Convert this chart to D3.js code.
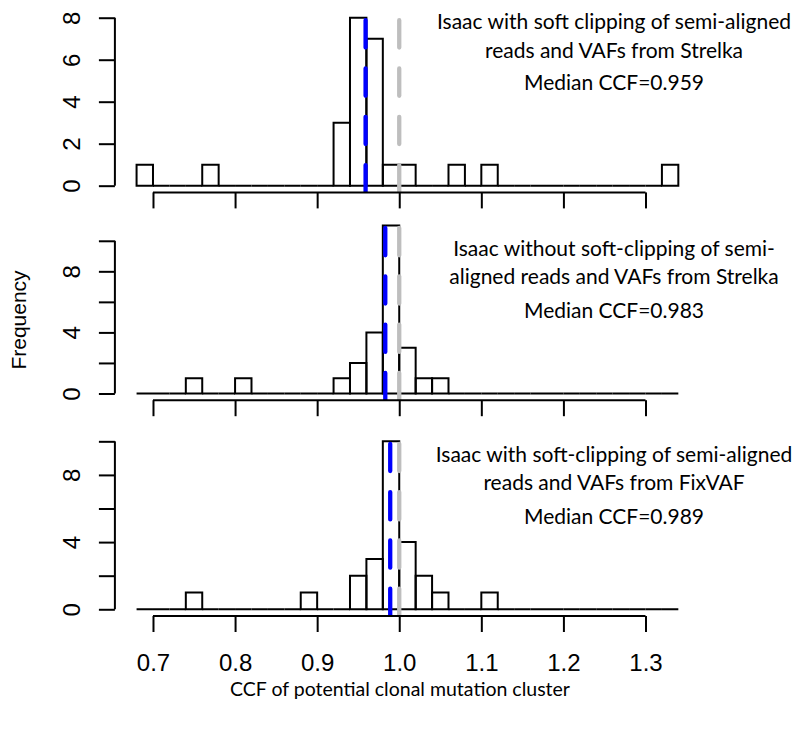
<!DOCTYPE html>
<html>
<head>
<meta charset="utf-8">
<script src="https://cdn.jsdelivr.net/npm/d3@7"></script>
<style>
  body { margin: 0; background: #fff; }
  .tick line, .domain { stroke: #000; stroke-width: 2; }
</style>
</head>
<body>
<div id="chart"></div>
<script>
// histogram breaks (shared by the three panels)
var breaks = [0.68, 0.70, 0.72, 0.74, 0.76, 0.78, 0.80, 0.82, 0.84, 0.86, 0.88,
              0.90, 0.92, 0.94, 0.96, 0.98, 1.00, 1.02, 1.04, 1.06, 1.08, 1.10,
              1.12, 1.14, 1.16, 1.18, 1.20, 1.22, 1.24, 1.26, 1.28, 1.30, 1.32, 1.34];

// counts per bin
var counts_soft_strelka   = [1,0,0,0,1,0,0,0,0,0,0,0, 3,8,7,1,1, 0,0,1,0,1,0, 0,0,0,0,0,0,0,0,0,1];
var counts_nosoft_strelka = [0,0,0,1,0,0,1,0,0,0,0,0, 1,2,4,11,3,1,1, 0,0,0,0,0,0,0,0,0,0,0,0,0,0];
var counts_soft_fixvaf    = [0,0,0,1,0,0,0,0,0,0,1,0, 0,2,3,10,4,2,1,0,0,1,0, 0,0,0,0,0,0,0,0,0,0];

var medians = [0.959, 0.983, 0.989];
var ref_ccf = 1.0;

var x_ticks = [0.7, 0.8, 0.9, 1.0, 1.1, 1.2, 1.3];
var y_max = [8, 11, 10];
var y_ticks = [[0, 2, 4, 6, 8], [0, 2, 4, 6, 8, 10], [0, 2, 4, 6, 8, 10]];
var y_labels = [[0, 2, 4, 6, 8], [0, 4, 8], [0, 4, 8]];

var panel_text = [
  ["Isaac with soft clipping of semi-aligned", "reads and VAFs from Strelka", "Median CCF=0.959"],
  ["Isaac without soft-clipping of semi-", "aligned reads and VAFs from Strelka", "Median CCF=0.983"],
  ["Isaac with soft-clipping of semi-aligned", "reads and VAFs from FixVAF", "Median CCF=0.989"]
];

var all_counts = [counts_soft_strelka, counts_nosoft_strelka, counts_soft_fixvaf];

// layout
var width = 804, height = 729;
var plot_left = 114.9, plot_right = 700;
var panel_top = [11, 218.8, 434.6];
var panel_h = 181.4;
var text_base = [[29, 58, 90], [256, 284, 318], [462, 490, 524]];
var text_x = 614;

var svg = d3.select("#chart").append("svg")
    .attr("width", width)
    .attr("height", height);

// R style axis range: data range extended 4%
var xlo = breaks[0], xhi = breaks[breaks.length - 1];
var xpad = (xhi - xlo) * 0.04;
var x = d3.scaleLinear()
    .domain([xlo - xpad, xhi + xpad])
    .range([plot_left, plot_right]);

all_counts.forEach(function(counts, p) {
    var top = panel_top[p], bottom = top + panel_h;
    var ypad = y_max[p] * 0.04;
    var y = d3.scaleLinear()
        .domain([-ypad, y_max[p] + ypad])
        .range([bottom, top]);

    var g = svg.append("g");

    var clipId = "clip" + p;
    svg.append("clipPath").attr("id", clipId)
      .append("rect")
        .attr("x", plot_left).attr("y", top)
        .attr("width", plot_right - plot_left).attr("height", panel_h);

    // bars, drawn as closed paths so empty bins still show on the baseline
    var bins = counts.map(function(c, i) { return {x0: breaks[i], x1: breaks[i + 1], n: c}; });
    g.selectAll("path.bar")
      .data(bins)
      .join("path")
        .attr("class", "bar")
        .attr("d", d => "M" + x(d.x0) + "," + y(0) + "V" + y(d.n) + "H" + x(d.x1) + "V" + y(0) + "Z")
        .attr("fill", "none")
        .attr("stroke", "#000")
        .attr("stroke-width", 2);

    // median and reference lines (dash pattern starts at the bottom)
    var lines = g.append("g").attr("clip-path", "url(#" + clipId + ")");
    [[medians[p], "#0000ff"], [ref_ccf, "#bebebe"]].forEach(function(v) {
        lines.append("line")
            .attr("x1", x(v[0])).attr("x2", x(v[0]))
            .attr("y1", bottom).attr("y2", top)
            .attr("stroke", v[1])
            .attr("stroke-width", 4.3)
            .attr("stroke-linecap", "round")
            .attr("stroke-dasharray", "27.3,21");
    });

    // x axis
    var xa = svg.append("g")
        .attr("transform", "translate(0," + bottom + ")")
        .call(d3.axisBottom(x).tickValues(x_ticks).tickSize(16).tickSizeOuter(0).tickPadding(22)
            .tickFormat(p == 2 ? d3.format(".1f") : ""));
    xa.select(".domain").attr("d", "M" + x(x_ticks[0]) + ",0H" + x(x_ticks[x_ticks.length - 1]));
    xa.selectAll("text")
        .style("font-family", "'Liberation Sans', Arial, sans-serif")
        .style("font-size", "24px")
        .attr("fill", "#000");

    // y axis
    var ya = svg.append("g")
        .attr("transform", "translate(" + plot_left + ",0)")
        .call(d3.axisLeft(y).tickValues(y_ticks[p]).tickSize(16).tickSizeOuter(0)
            .tickFormat(d => y_labels[p].indexOf(d) >= 0 ? d : ""));
    var yt = y_ticks[p];
    ya.select(".domain").attr("d", "M0," + y(yt[0]) + "V" + y(yt[yt.length - 1]));
    ya.selectAll("text")
        .attr("x", 0).attr("y", -35).attr("dy", null)
        .attr("transform", "rotate(-90)")
        .attr("text-anchor", "middle")
        .attr("fill", "#000")
        .style("font-family", "'Liberation Sans', Arial, sans-serif")
        .style("font-size", "24px");

    // annotation text
    panel_text[p].forEach(function(t, i) {
        svg.append("text")
            .attr("x", text_x)
            .attr("y", text_base[p][i])
            .attr("text-anchor", "middle")
            .style("font-family", "Lato, 'Open Sans', sans-serif")
            .style("font-size", "21px")
            .attr("fill", "#000")
            .text(t);
    });
});

// axis titles
svg.append("text")
    .attr("x", 400)
    .attr("y", 696)
    .attr("text-anchor", "middle")
    .style("font-family", "Lato, 'Open Sans', sans-serif")
    .style("font-size", "19.5px")
    .text("CCF of potential clonal mutation cluster");

svg.append("text")
    .attr("transform", "translate(26,320) rotate(-90)")
    .attr("text-anchor", "middle")
    .style("font-family", "'Liberation Sans', Arial, sans-serif")
    .style("font-size", "21px")
    .text("Frequency");
</script>
</body>
</html>
